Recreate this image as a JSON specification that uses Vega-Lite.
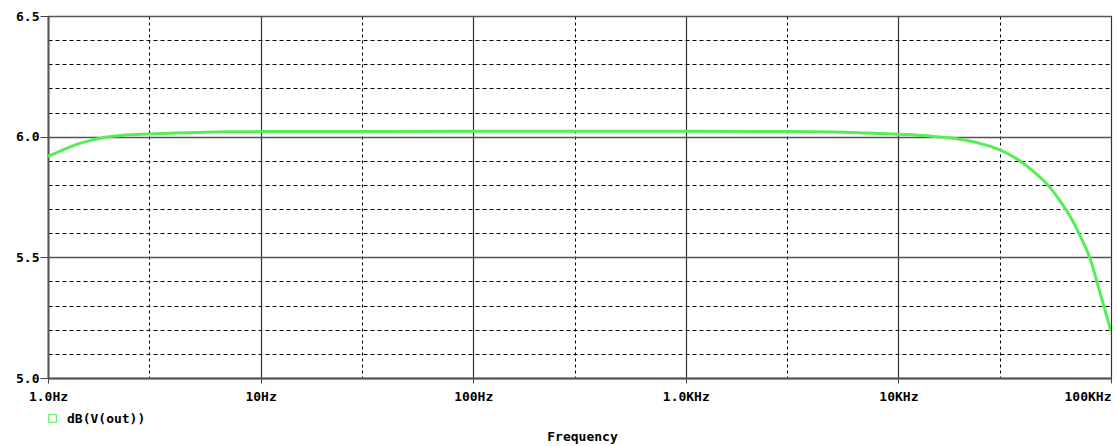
{
  "$schema": "https://vega.github.io/schema/vega-lite/v6.json",
  "width": 1063,
  "height": 362,
  "autosize": "none",
  "padding": {"left": 48, "top": 16, "right": 6, "bottom": 68},
  "background": "white",
  "config": {
    "view": {"stroke": "black", "strokeWidth": 1},
    "font": "DejaVu Sans Mono"
  },
  "data": {
    "values": [
      {"f": 1, "db": 5.918, "series": "dB(V(out))"},
      {"f": 1.2, "db": 5.948, "series": "dB(V(out))"},
      {"f": 1.41, "db": 5.972, "series": "dB(V(out))"},
      {"f": 1.6, "db": 5.985, "series": "dB(V(out))"},
      {"f": 1.89, "db": 5.999, "series": "dB(V(out))"},
      {"f": 2.2, "db": 6.005, "series": "dB(V(out))"},
      {"f": 3, "db": 6.011, "series": "dB(V(out))"},
      {"f": 4, "db": 6.015, "series": "dB(V(out))"},
      {"f": 5, "db": 6.017, "series": "dB(V(out))"},
      {"f": 7, "db": 6.02, "series": "dB(V(out))"},
      {"f": 10, "db": 6.021, "series": "dB(V(out))"},
      {"f": 100, "db": 6.022, "series": "dB(V(out))"},
      {"f": 1000, "db": 6.022, "series": "dB(V(out))"},
      {"f": 3000, "db": 6.021, "series": "dB(V(out))"},
      {"f": 5000, "db": 6.019, "series": "dB(V(out))"},
      {"f": 7000, "db": 6.015, "series": "dB(V(out))"},
      {"f": 10000, "db": 6.01, "series": "dB(V(out))"},
      {"f": 14000, "db": 6.003, "series": "dB(V(out))"},
      {"f": 18100, "db": 5.993, "series": "dB(V(out))"},
      {"f": 24200, "db": 5.972, "series": "dB(V(out))"},
      {"f": 30000, "db": 5.945, "series": "dB(V(out))"},
      {"f": 35000, "db": 5.915, "series": "dB(V(out))"},
      {"f": 40000, "db": 5.88, "series": "dB(V(out))"},
      {"f": 45000, "db": 5.842, "series": "dB(V(out))"},
      {"f": 51600, "db": 5.79, "series": "dB(V(out))"},
      {"f": 57500, "db": 5.735, "series": "dB(V(out))"},
      {"f": 64200, "db": 5.67, "series": "dB(V(out))"},
      {"f": 71500, "db": 5.59, "series": "dB(V(out))"},
      {"f": 79600, "db": 5.497, "series": "dB(V(out))"},
      {"f": 89000, "db": 5.35, "series": "dB(V(out))"},
      {"f": 100000, "db": 5.194, "series": "dB(V(out))"}
    ]
  },
  "mark": {"type": "line", "strokeWidth": 3, "interpolate": "monotone", "clip": true},
  "encoding": {
    "x": {
      "field": "f",
      "type": "quantitative",
      "scale": {"type": "log", "domain": [1, 100000], "nice": false},
      "axis": {
        "title": "Frequency",
        "values": [1, 3, 10, 30, 100, 300, 1000, 3000, 10000, 30000, 100000],
        "labelExpr": "datum.value == 1 ? '1.0Hz' : datum.value == 10 ? '10Hz' : datum.value == 100 ? '100Hz' : datum.value == 1000 ? '1.0KHz' : datum.value == 10000 ? '10KHz' : datum.value == 100000 ? '100KHz' : ''",
        "labelAlign": {"condition": {"test": "datum.value >= 100000", "value": "right"}, "value": "center"},
        "labelFont": "DejaVu Sans Mono",
        "labelFontWeight": "bold",
        "labelFontSize": 13,
        "labelColor": "black",
        "labelPadding": 7,
        "labelFlush": false,
        "labelOverlap": false,
        "tickSize": {"condition": {"test": "indexof([1,10,100,1000,10000,100000], datum.value) >= 0", "value": 5}, "value": 0},
        "tickColor": "#444444",
        "tickWidth": 1,
        "domainColor": "#555555",
        "domainWidth": 2,
        "grid": true,
        "gridColor": {"condition": {"test": "indexof([1,10,100,1000,10000,100000], datum.value) >= 0", "value": "#333333"}, "value": "black"},
        "gridDash": {"condition": {"test": "indexof([1,10,100,1000,10000,100000], datum.value) >= 0", "value": []}, "value": [3, 3]},
        "gridWidth": {"condition": {"test": "indexof([1,10,100,1000,10000,100000], datum.value) >= 0", "value": 1.2}, "value": 1},
        "gridOpacity": 1,
        "titleFont": "DejaVu Sans Mono",
        "titleFontWeight": "bold",
        "titleFontSize": 13,
        "titleColor": "black",
        "titlePadding": 27,
        "titleX": 534
      }
    },
    "y": {
      "field": "db",
      "type": "quantitative",
      "scale": {"domain": [5, 6.5], "nice": false, "zero": false},
      "axis": {
        "title": null,
        "values": [5, 5.1, 5.2, 5.3, 5.4, 5.5, 5.6, 5.7, 5.8, 5.9, 6, 6.1, 6.2, 6.3, 6.4, 6.5],
        "labelExpr": "abs(datum.value * 2 - round(datum.value * 2)) < 0.001 ? format(datum.value, '.1f') : ''",
        "labelFont": "DejaVu Sans Mono",
        "labelFontWeight": "bold",
        "labelFontSize": 13,
        "labelColor": "black",
        "labelPadding": 1,
        "labelOverlap": false,
        "labelFlush": false,
        "tickSize": {"condition": {"test": "abs(datum.value * 2 - round(datum.value * 2)) < 0.001", "value": 8}, "value": 0},
        "tickColor": "#444444",
        "domainColor": "#555555",
        "domainWidth": 2,
        "grid": true,
        "gridColor": {"condition": {"test": "abs(datum.value * 2 - round(datum.value * 2)) < 0.001", "value": "#555555"}, "value": "black"},
        "gridDash": {"condition": {"test": "abs(datum.value * 2 - round(datum.value * 2)) < 0.001", "value": []}, "value": [4, 3]},
        "gridWidth": {"condition": {"test": "abs(datum.value * 2 - round(datum.value * 2)) < 0.001", "value": 1.5}, "value": 1},
        "gridOpacity": 1
      }
    },
    "color": {
      "field": "series",
      "type": "nominal",
      "scale": {"range": ["#55ee55"]},
      "legend": {
        "title": null,
        "orient": "none",
        "legendX": -2,
        "legendY": 396,
        "symbolType": "square",
        "symbolSize": 60,
        "symbolFillColor": "transparent",
        "symbolStrokeWidth": 1,
        "labelFont": "DejaVu Sans Mono",
        "labelFontWeight": "bold",
        "labelFontSize": 13,
        "labelColor": "black",
        "labelOffset": 8
      }
    }
  }
}
